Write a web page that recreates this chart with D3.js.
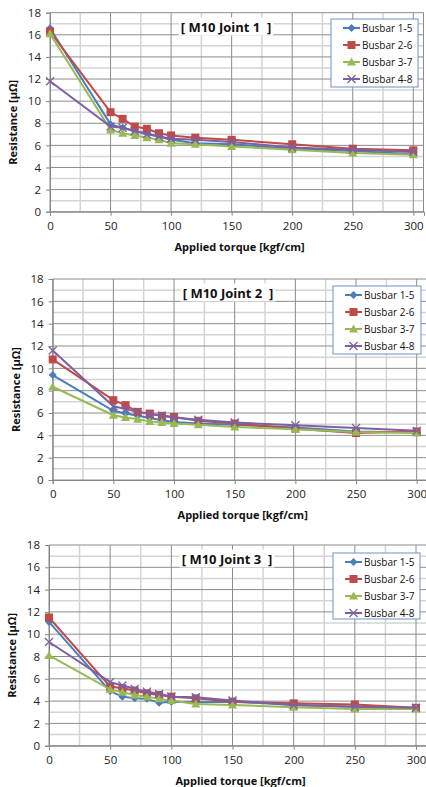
<!DOCTYPE html>
<html>
<head>
<meta charset="utf-8">
<script src="https://cdn.jsdelivr.net/npm/d3@7"></script>
<style>
  html, body { margin: 0; padding: 0; background: #fff; }
  svg { display: block; font-family: "Open Sans", "Liberation Sans", sans-serif; }
</style>
</head>
<body>
<svg id="chart" width="426" height="787"></svg>
<script>
// torque values (x) shared by all three joints
const torque = [0, 50, 60, 70, 80, 90, 100, 120, 150, 200, 250, 300];
const seriesNames = ["Busbar 1-5", "Busbar 2-6", "Busbar 3-7", "Busbar 4-8"];
const xTicks = [0, 50, 100, 150, 200, 250, 300];
const yTicks = [0, 2, 4, 6, 8, 10, 12, 14, 16, 18];

// Joint 1
const j1_15 = [16.6, 7.9, 7.6, 7.3, 7.1, 6.8, 6.5, 6.2, 6.1, 5.7, 5.5, 5.2];
const j1_26 = [16.3, 9.0, 8.4, 7.7, 7.5, 7.1, 6.9, 6.7, 6.5, 6.1, 5.7, 5.55];
const j1_37 = [16.1, 7.4, 7.1, 6.9, 6.7, 6.5, 6.2, 6.1, 5.9, 5.6, 5.3, 5.15];
const j1_48 = [11.8, 7.7, 7.6, 7.3, 7.0, 6.8, 6.6, 6.5, 6.3, 5.8, 5.6, 5.4];
// Joint 2
const j2_15 = [9.4, 6.2, 5.95, 5.75, 5.55, 5.35, 5.2, 5.05, 4.95, 4.7, 4.35, 4.25];
const j2_26 = [10.8, 7.15, 6.7, 6.1, 5.95, 5.75, 5.65, 5.3, 5.05, 4.6, 4.2, 4.35];
const j2_37 = [8.35, 5.8, 5.6, 5.45, 5.25, 5.15, 5.05, 4.95, 4.75, 4.55, 4.3, 4.2];
const j2_48 = [11.6, 6.6, 6.35, 6.1, 5.9, 5.75, 5.6, 5.4, 5.15, 4.9, 4.65, 4.4];
// Joint 3
const j3_15 = [11.1, 4.9, 4.4, 4.25, 4.2, 3.85, 3.95, 3.9, 3.95, 3.65, 3.5, 3.35];
const j3_26 = [11.5, 5.3, 5.15, 4.95, 4.7, 4.55, 4.4, 4.25, 3.95, 3.8, 3.7, 3.4];
const j3_37 = [8.1, 5.05, 4.8, 4.55, 4.4, 4.2, 4.05, 3.75, 3.65, 3.45, 3.3, 3.3];
const j3_48 = [9.3, 5.7, 5.4, 5.1, 4.85, 4.65, 4.4, 4.35, 4.05, 3.65, 3.5, 3.4];

const colors = ["#4a7ebb", "#be4b48", "#98b954", "#7d60a0"];
const markers = ["diamond", "square", "triangle", "cross"];

// panel layout (pixels)
const panels = [
    { title: "[ M10 Joint 1  ]", series: [j1_15, j1_26, j1_37, j1_48],
      left: 50, top: 12.7, bottom: 211.7, x300: 413.3, right: 424,
      titleX: 226, titleY: 27, legend: { x: 331, y: 19, w: 87, h: 68 } },
    { title: "[ M10 Joint 2  ]", series: [j2_15, j2_26, j2_37, j2_48],
      left: 52.7, top: 279, bottom: 480, x300: 416.7, right: 440,
      titleX: 228, titleY: 293, legend: { x: 333, y: 286, w: 88, h: 68 } },
    { title: "[ M10 Joint 3  ]", series: [j3_15, j3_26, j3_37, j3_48],
      left: 49, top: 545, bottom: 745.7, x300: 416, right: 440,
      titleX: 227, titleY: 559, legend: { x: 333, y: 553, w: 87, h: 66 } }
];

const svg = d3.select("#chart");

function drawMarker(g, type, x, y, color) {
    if (type === "diamond") {
        g.append("path").attr("d", `M${x},${y - 4}L${x + 4},${y}L${x},${y + 4}L${x - 4},${y}Z`).attr("fill", color);
    } else if (type === "square") {
        g.append("rect").attr("x", x - 4).attr("y", y - 4).attr("width", 8).attr("height", 8).attr("fill", color);
    } else if (type === "triangle") {
        g.append("path").attr("d", `M${x},${y - 4.5}L${x + 4.5},${y + 3.5}L${x - 4.5},${y + 3.5}Z`).attr("fill", color);
    } else {
        g.append("path").attr("d", `M${x - 4},${y - 4}L${x + 4},${y + 4}M${x - 4},${y + 4}L${x + 4},${y - 4}`)
            .attr("stroke", color).attr("stroke-width", 1.3).attr("fill", "none");
    }
}

panels.forEach(p => {
    const g = svg.append("g");
    const pxPerUnit = (p.x300 - p.left) / 300;
    const xMax = (p.right - p.left) / pxPerUnit;
    const x = d3.scaleLinear().domain([0, xMax]).range([p.left, p.right]);
    const y = d3.scaleLinear().domain([0, 18]).range([p.bottom, p.top]);

    // minor gridlines
    d3.range(1, 18, 2).forEach(v => {
        g.append("line").attr("x1", p.left).attr("x2", p.right).attr("y1", y(v)).attr("y2", y(v))
            .attr("stroke", "#d4d4d4").attr("stroke-width", 1.5);
    });
    [25, 75, 125, 175, 225, 275].forEach(v => {
        g.append("line").attr("x1", x(v)).attr("x2", x(v)).attr("y1", p.top).attr("y2", p.bottom)
            .attr("stroke", "#d4d4d4").attr("stroke-width", 1.5);
    });
    // major gridlines
    yTicks.forEach(v => {
        g.append("line").attr("x1", p.left).attr("x2", p.right).attr("y1", y(v)).attr("y2", y(v))
            .attr("stroke", "#8c8c8c").attr("stroke-width", 1);
    });
    xTicks.forEach(v => {
        g.append("line").attr("x1", x(v)).attr("x2", x(v)).attr("y1", p.top).attr("y2", p.bottom)
            .attr("stroke", "#8c8c8c").attr("stroke-width", 1);
    });
    g.append("line").attr("x1", p.right - 0.5).attr("x2", p.right - 0.5).attr("y1", p.top).attr("y2", p.bottom)
        .attr("stroke", "#8c8c8c");

    // axes
    const xAxis = g.append("g").attr("transform", `translate(0,${p.bottom})`)
        .call(d3.axisBottom(x).tickValues(xTicks).tickSize(4).tickPadding(6));
    const yAxis = g.append("g").attr("transform", `translate(${p.left},0)`)
        .call(d3.axisLeft(y).tickValues(yTicks).tickSize(4).tickPadding(5));
    [xAxis, yAxis].forEach(a => {
        a.select(".domain").attr("stroke", "#868686");
        a.selectAll(".tick line").attr("stroke", "#868686");
        a.selectAll("text").attr("fill", "#222").style("font-size", "11.5px")
            .style("font-family", "'Open Sans', sans-serif");
    });

    // title with white box
    const box = g.append("rect").attr("fill", "#fff");
    const t = g.append("text").attr("x", p.titleX).attr("y", p.titleY + 4.5)
        .attr("text-anchor", "middle").style("font-size", "13px").style("font-weight", "bold")
        .style("white-space", "pre").attr("fill", "#111").text(p.title);
    const bb = t.node().getBBox();
    box.attr("x", bb.x - 2).attr("y", bb.y).attr("width", bb.width + 4).attr("height", bb.height);

    // series
    p.series.forEach((vals, i) => {
        const pts = torque.map((tq, k) => [tq, vals[k]]);
        g.append("path").datum(pts)
            .attr("d", d3.line().x(d => x(d[0])).y(d => y(d[1])))
            .attr("fill", "none").attr("stroke", colors[i]).attr("stroke-width", 2);
        pts.forEach(d => drawMarker(g, markers[i], x(d[0]), y(d[1]), colors[i]));
    });

    // axis titles
    g.append("text").attr("x", (p.left + p.x300) / 2 + 8).attr("y", p.bottom + 39)
        .attr("text-anchor", "middle").style("font-size", "11px").style("font-weight", "bold")
        .attr("fill", "#111").text("Applied torque [kgf/cm]");
    g.append("text")
        .attr("transform", `translate(${p.left - 33},${(p.top + p.bottom) / 2 + 10}) rotate(-90)`)
        .attr("text-anchor", "middle").style("font-size", "11px").style("font-weight", "bold")
        .attr("fill", "#111").text("Resistance [μΩ]");

    // legend
    const L = p.legend;
    const lg = g.append("g");
    lg.append("rect").attr("x", L.x).attr("y", L.y).attr("width", L.w).attr("height", L.h)
        .attr("fill", "#fff").attr("stroke", "#6f8fc7").attr("stroke-width", 1);
    seriesNames.forEach((name, i) => {
        const ly = L.y + 9 + i * 17;
        lg.append("line").attr("x1", L.x + 12).attr("x2", L.x + 29).attr("y1", ly).attr("y2", ly)
            .attr("stroke", colors[i]).attr("stroke-width", 2);
        drawMarker(lg, markers[i], L.x + 20.5, ly, colors[i]);
        lg.append("text").attr("x", L.x + 31).attr("y", ly + 3.5).style("font-size", "10px")
            .attr("fill", "#111").text(name);
    });
});
</script>
</body>
</html>
